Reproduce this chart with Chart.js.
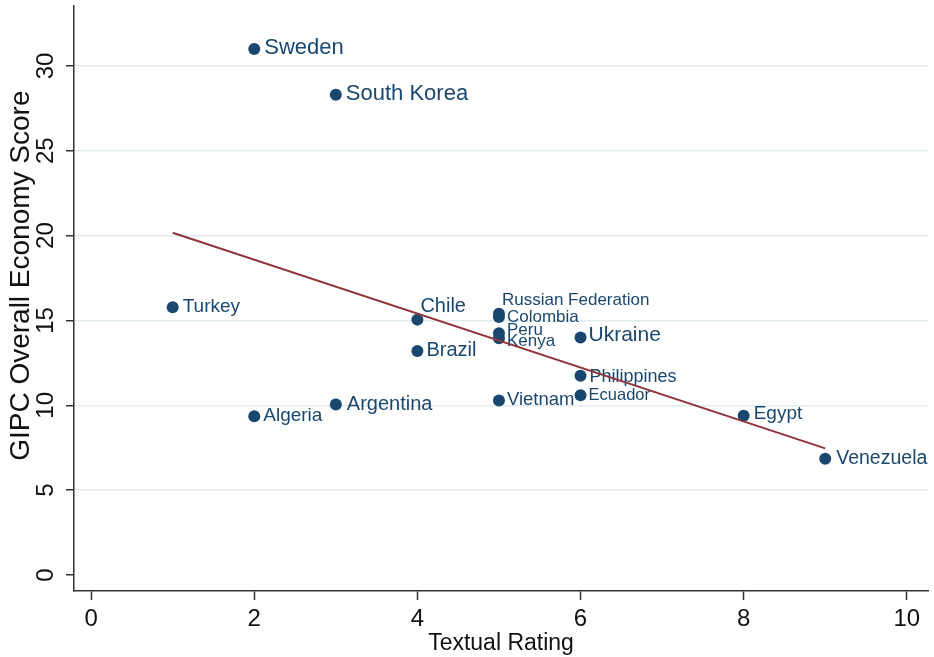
<!DOCTYPE html>
<html>
<head>
<meta charset="utf-8">
<title>GIPC Overall Economy Score vs Textual Rating</title>
<script src="https://cdn.jsdelivr.net/npm/chart.js@4.4.0/dist/chart.umd.min.js"></script>
<style>
  html, body { margin: 0; padding: 0; background: #ffffff; }
  #wrap { width: 934px; height: 657px; }
</style>
</head>
<body>
<div id="wrap"><canvas id="chart" width="934" height="657"></canvas></div>
<script>
// ---- data ----
const countries = [
  'Sweden', 'South Korea', 'Turkey', 'Chile', 'Brazil', 'Algeria', 'Argentina',
  'Russian Federation', 'Colombia', 'Peru', 'Kenya', 'Vietnam',
  'Ukraine', 'Philippines', 'Ecuador', 'Egypt', 'Venezuela'
];
const textualRating = [2, 3, 1, 4, 4, 2, 3, 5, 5, 5, 5, 5, 6, 6, 6, 8, 9];
const economyScore = [
  31.0, 28.3, 15.78, 15.05, 13.2, 9.35, 10.05,
  15.4, 15.2, 14.25, 13.95, 10.28,
  14.0, 11.75, 10.6, 9.38, 6.85
];
const xTickValues = [0, 2, 4, 6, 8, 10];
const yTickValues = [0, 5, 10, 15, 20, 25, 30];

// ---- label appearance (font size, offset from the marker centre) ----
const labelStyle = {
  'Sweden':             { size: 22,   dx: 10, dy: -1 },
  'South Korea':        { size: 22,   dx: 10, dy: -1 },
  'Turkey':             { size: 19,   dx: 10, dy: 0 },
  'Chile':              { size: 20,   dx: 3,  dy: -13 },
  'Brazil':             { size: 20,   dx: 9,  dy: -1 },
  'Algeria':            { size: 19,   dx: 9,  dy: -1 },
  'Argentina':          { size: 20,   dx: 11, dy: 0 },
  'Russian Federation': { size: 17,   dx: 3,  dy: -13 },
  'Colombia':           { size: 17,   dx: 8,  dy: 0 },
  'Peru':               { size: 17,   dx: 8,  dy: -3 },
  'Kenya':              { size: 17,   dx: 8,  dy: 3 },
  'Vietnam':            { size: 18.5, dx: 8,  dy: -1 },
  'Ukraine':            { size: 21,   dx: 8,  dy: -2 },
  'Philippines':        { size: 18,   dx: 9,  dy: 1 },
  'Ecuador':            { size: 16.5, dx: 8,  dy: 0 },
  'Egypt':              { size: 19,   dx: 10, dy: -2 },
  'Venezuela':          { size: 19.5, dx: 11, dy: 0 }
};

const MARKER = '#1a476f';
const FIT = '#90353b';
const AXIS = '#333333';
const INK = '#111111';
const FONT = '"Liberation Sans", Arial, sans-serif';

// ordinary least-squares fit of score on rating
function leastSquares(xs, ys) {
  const n = xs.length;
  const mx = xs.reduce((a, b) => a + b, 0) / n;
  const my = ys.reduce((a, b) => a + b, 0) / n;
  let sxy = 0, sxx = 0;
  for (let i = 0; i < n; i++) {
    sxy += (xs[i] - mx) * (ys[i] - my);
    sxx += (xs[i] - mx) * (xs[i] - mx);
  }
  const slope = sxy / sxx;
  return { slope, intercept: my - slope * mx };
}
const fit = leastSquares(textualRating, economyScore);
const xLo = Math.min(...textualRating);
const xHi = Math.max(...textualRating);
const fitPoints = [xLo, xHi].map(x => ({ x, y: fit.intercept + fit.slope * x }));

const points = textualRating.map((x, i) => ({ x, y: economyScore[i] }));

// country names written beside their markers
const countryLabels = {
  id: 'countryLabels',
  beforeDatasetsDraw(chart) {
    const ctx = chart.ctx;
    const meta = chart.getDatasetMeta(1);
    ctx.save();
    ctx.fillStyle = MARKER;
    ctx.textAlign = 'left';
    ctx.textBaseline = 'middle';
    meta.data.forEach((el, i) => {
      const name = countries[i];
      const st = labelStyle[name];
      ctx.font = st.size + 'px ' + FONT;
      ctx.fillText(name, el.x + st.dx, el.y + st.dy);
    });
    ctx.restore();
  }
};

// vertical title of the score axis
const yAxisTitle = {
  id: 'yAxisTitle',
  afterDraw(chart) {
    const ctx = chart.ctx;
    const area = chart.chartArea;
    ctx.save();
    ctx.translate(21, area.top + (area.bottom - area.top) * 0.461);
    ctx.rotate(-Math.PI / 2);
    ctx.fillStyle = INK;
    ctx.font = '28px ' + FONT;
    ctx.textAlign = 'center';
    ctx.textBaseline = 'middle';
    ctx.fillText('GIPC Overall Economy Score', 0, 0);
    ctx.restore();
  }
};

Chart.defaults.font.family = FONT;

new Chart(document.getElementById('chart'), {
  type: 'scatter',
  data: {
    datasets: [
      {
        type: 'line',
        label: 'Fitted values',
        data: fitPoints,
        borderColor: FIT,
        borderWidth: 2,
        pointRadius: 0,
        fill: false,
        order: 0
      },
      {
        label: 'GIPC Overall Economy Score',
        data: points,
        backgroundColor: MARKER,
        borderWidth: 0,
        pointRadius: 6,
        pointHoverRadius: 6,
        order: 1
      }
    ]
  },
  options: {
    responsive: false,
    animation: false,
    layout: { padding: { top: 5, right: 5, left: 0, bottom: 0 } },
    plugins: {
      legend: { display: false },
      tooltip: { enabled: false }
    },
    scales: {
      x: {
        type: 'linear',
        min: -0.21,
        max: 10.26,
        afterBuildTicks: s => { s.ticks = xTickValues.map(v => ({ value: v })); },
        afterFit: s => { s.height = 66; s.paddingLeft = 0; s.paddingRight = 0; },
        grid: {
          drawOnChartArea: false,
          drawTicks: true,
          tickLength: 9,
          tickColor: AXIS,
          tickWidth: 1.5
        },
        border: { color: AXIS, width: 1.5 },
        ticks: {
          color: INK,
          font: { size: 24 },
          padding: 5,
          maxRotation: 0,
          minRotation: 0
        },
        title: {
          display: true,
          text: 'Textual Rating',
          color: INK,
          font: { size: 23 },
          padding: { top: 0, bottom: 0 }
        }
      },
      y: {
        type: 'linear',
        min: -0.94,
        max: 33.53,
        afterBuildTicks: s => { s.ticks = yTickValues.map(v => ({ value: v })); },
        afterFit: s => { s.width = 74; s.paddingTop = 0; s.paddingBottom = 0; },
        grid: {
          color: ctx => (ctx.tick && ctx.tick.value === 0) ? 'rgba(0,0,0,0)' : '#e2ebee',
          lineWidth: 1.5,
          drawTicks: true,
          tickLength: 8,
          tickColor: AXIS,
          tickWidth: 1.5
        },
        border: { color: AXIS, width: 1.5 },
        ticks: {
          color: INK,
          font: { size: 24 },
          minRotation: 90,
          maxRotation: 90,
          crossAlign: 'center',
          padding: 6
        },
        title: { display: false }
      }
    }
  },
  plugins: [countryLabels, yAxisTitle]
});
</script>
</body>
</html>
